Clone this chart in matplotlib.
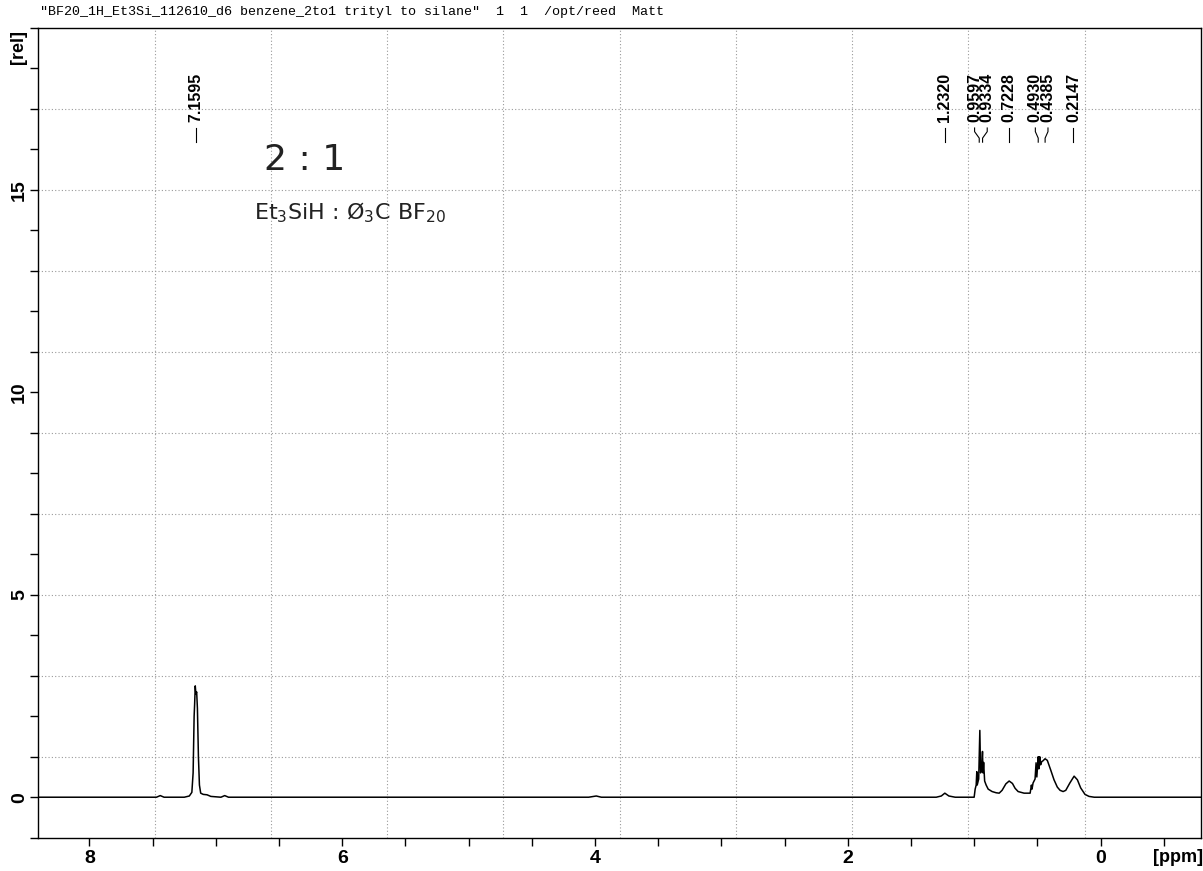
import numpy as np
import matplotlib
matplotlib.use("Agg")
import matplotlib.pyplot as plt
from matplotlib.ticker import MultipleLocator, FuncFormatter

plt.rcParams['font.family'] = ['Liberation Sans', 'DejaVu Sans']

# spectrum (ppm, intensity)
ppm = [8.40, 7.80, 7.47, 7.44, 7.41, 7.25, 7.21, 7.19, 7.18, 7.172, 7.168,
       7.163, 7.158, 7.152, 7.146, 7.138, 7.13, 7.12, 7.10, 7.07, 7.04,
       6.96, 6.93, 6.90, 4.05, 3.99, 3.95, 1.30, 1.26, 1.232, 1.20, 1.15,
       1.000, 0.992, 0.984, 0.979, 0.976, 0.964, 0.955, 0.949, 0.941, 0.934,
       0.930, 0.925, 0.917, 0.905, 0.889, 0.858, 0.826, 0.802, 0.779, 0.749,
       0.723, 0.697, 0.676, 0.652, 0.605, 0.557, 0.547, 0.542, 0.534, 0.518,
       0.510, 0.504, 0.493, 0.488, 0.481, 0.474, 0.465, 0.455, 0.439, 0.421,
       0.394, 0.368, 0.342, 0.320, 0.296, 0.275, 0.243, 0.209, 0.183, 0.157,
       0.123, 0.091, 0.05, -0.80]
intensity = [0.0, 0.0, 0.0, 0.04, 0.0, 0.0, 0.03, 0.12, 0.6, 2.0, 2.3,
             2.75, 2.55, 2.6, 2.2, 1.0, 0.3, 0.1, 0.07, 0.06, 0.02,
             0.0, 0.04, 0.0, 0.0, 0.03, 0.0, 0.0, 0.03, 0.1, 0.03, 0.0,
             0.0, 0.2, 0.3, 0.63, 0.3, 0.45, 1.65, 0.6, 0.7, 1.13,
             0.6, 0.86, 0.4, 0.3, 0.2, 0.14, 0.11, 0.1, 0.17, 0.33,
             0.4, 0.34, 0.22, 0.14, 0.1, 0.1, 0.3, 0.2, 0.35, 0.45,
             0.85, 0.5, 1.0, 0.7, 1.0, 0.8, 0.88, 0.9, 0.95, 0.91,
             0.67, 0.43, 0.25, 0.17, 0.14, 0.17, 0.35, 0.52, 0.43, 0.23,
             0.07, 0.02, 0.0, 0.0]

peak_labels = [7.1595, 1.2320, 0.9597, 0.9334, 0.7228, 0.4930, 0.4385, 0.2147]

title = '"BF20_1H_Et3Si_112610_d6 benzene_2to1 trityl to silane"  1  1  /opt/reed  Matt'

x_left, x_right = 8.405, -0.795
y_low, y_high = -1.0, 19.0

fig = plt.figure(figsize=(12.03, 8.71), dpi=100)
ax = fig.add_axes([38.3 / 1203, 1 - 837.7 / 871, (1201 - 38.3) / 1203, (837.7 - 28) / 871])

# paper grid: 10 x 10 boxes
for gx in np.linspace(x_left, x_right, 11)[1:-1]:
    ax.axvline(gx, color='#9a9a9a', lw=0.8, ls=(0, (1, 2)), zorder=0)
for gy in np.linspace(y_low, y_high, 11)[1:-1]:
    ax.axhline(gy, color='#9a9a9a', lw=0.8, ls=(0, (1, 2)), zorder=0)

ax.plot(ppm, intensity, color='black', lw=1.1, zorder=3)

ax.set_xlim(x_left, x_right)
ax.set_ylim(y_low, y_high)

ax.xaxis.set_major_locator(MultipleLocator(0.5))
ax.yaxis.set_major_locator(MultipleLocator(1))
ax.xaxis.set_major_formatter(FuncFormatter(lambda v, p: "%d" % round(v) if abs(v / 2 - round(v / 2)) < 1e-6 else ""))
ax.yaxis.set_major_formatter(FuncFormatter(lambda v, p: "%d" % round(v) if abs(v / 5 - round(v / 5)) < 1e-6 else ""))
ax.tick_params(axis='x', direction='out', length=6, width=1, pad=3, labelsize=14)
ax.tick_params(axis='y', direction='out', length=6, width=1, pad=1.5, labelsize=14)
for lab in ax.get_xticklabels() + ax.get_yticklabels():
    lab.set_fontweight('bold')
for lab in ax.get_yticklabels():
    lab.set_rotation(90)
    lab.set_va('center')
for sp in ax.spines.values():
    sp.set_linewidth(1.0)

fig.text(18 / 1203, 1 - 47 / 871, "[rel]", rotation=90, fontsize=13, fontweight='bold',
         ha='center', va='center')
fig.text(1178 / 1203, 1 - 857 / 871, "[ppm]", fontsize=13, fontweight='bold',
         ha='center', va='center')

fig.text(40 / 1203, 1 - 12 / 871, title, family=['Liberation Mono', 'DejaVu Sans Mono'],
         fontsize=9.6, ha='left', va='center')

# handwritten notes
fig.text(305 / 1203, 1 - 160 / 871, "2 : 1", fontsize=26, color='#222222',
         ha='center', va='center', family=['DejaVu Sans'])
fig.text(350 / 1203, 1 - 213 / 871, "Et$_3$SiH : Ø$_3$C BF$_{20}$", fontsize=16,
         color='#222222', ha='center', va='center', family=['DejaVu Sans'])

# peak labels, spread where they crowd
sep = 0.1
pos = sorted(peak_labels, reverse=True)
groups = [[pos[0]]]
for p in pos[1:]:
    if groups[-1][-1] - p < sep:
        groups[-1].append(p)
    else:
        groups.append([p])
trans = ax.get_xaxis_transform()
for g in groups:
    c = np.mean(g)
    n = len(g)
    for i, p in enumerate(g):
        lx = c + (n - 1) / 2 * sep - i * sep
        ax.text(lx, 0.884, "%.4f" % p, rotation=90, fontsize=11.5, fontweight='bold',
                ha='center', va='bottom', transform=trans)
        ax.plot([lx, lx, p, p], [0.8765, 0.872, 0.864, 0.859], color='black', lw=0.8,
                transform=trans, clip_on=False)

fig.savefig("out.png", dpi=100, facecolor='white')
